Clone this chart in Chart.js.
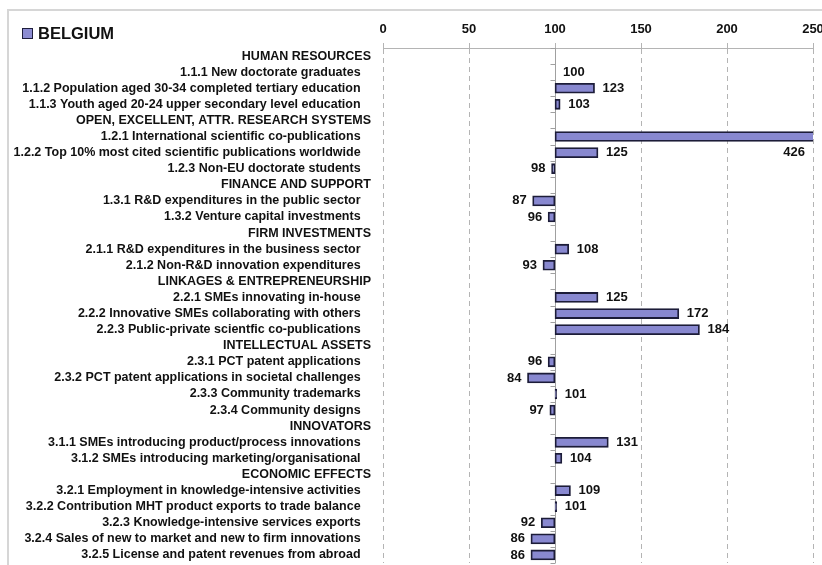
<!DOCTYPE html>
<html>
<head>
<meta charset="utf-8">
<script src="https://cdn.jsdelivr.net/npm/chart.js@4.4.1/dist/chart.umd.min.js"></script>
<style>
    html, body { margin: 0; padding: 0; background: #fff; width: 822px; height: 565px; overflow: hidden; }
    #frame { position: absolute; left: 7px; top: 9px; width: 900px; height: 600px; border-left: 2px solid #d6d6d6; border-top: 2px solid #d6d6d6; }
    #wrap { position: absolute; left: 0; top: 0; width: 840px; height: 565px; }
    #legend { position: absolute; left: 22px; top: 24px; font: bold 16.5px "Liberation Sans", Arial, sans-serif; color: #111; display: flex; align-items: center; }
    #legend .box { width: 9px; height: 9px; border: 1.5px solid #1e1e3c; background: #8c8cd2; margin-right: 5px; }
</style>
</head>
<body>
<div id="frame"></div>
<div id="wrap"><canvas id="chart"></canvas></div>
<div id="legend"><span class="box"></span><span>BELGIUM</span></div>

<script>
// Data (rows with null are section headers)
const categories = [
    "HUMAN RESOURCES",
    "1.1.1 New doctorate graduates",
    "1.1.2 Population aged 30-34 completed tertiary education",
    "1.1.3 Youth aged 20-24 upper secondary level education",
    "OPEN, EXCELLENT, ATTR. RESEARCH SYSTEMS",
    "1.2.1 International scientific co-publications",
    "1.2.2 Top 10% most cited scientific publications worldwide",
    "1.2.3 Non-EU doctorate students",
    "FINANCE AND SUPPORT",
    "1.3.1 R&D expenditures in the public sector",
    "1.3.2 Venture capital investments",
    "FIRM INVESTMENTS",
    "2.1.1 R&D expenditures in the business sector",
    "2.1.2 Non-R&D innovation expenditures",
    "LINKAGES & ENTREPRENEURSHIP",
    "2.2.1 SMEs innovating in-house",
    "2.2.2 Innovative SMEs collaborating with others",
    "2.2.3 Public-private scientfic co-publications",
    "INTELLECTUAL ASSETS",
    "2.3.1 PCT patent applications",
    "2.3.2 PCT patent applications in societal challenges",
    "2.3.3 Community trademarks",
    "2.3.4 Community designs",
    "INNOVATORS",
    "3.1.1 SMEs introducing product/process innovations",
    "3.1.2 SMEs introducing marketing/organisational",
    "ECONOMIC EFFECTS",
    "3.2.1 Employment in knowledge-intensive activities",
    "3.2.2 Contribution MHT product exports to trade balance",
    "3.2.3 Knowledge-intensive services exports",
    "3.2.4 Sales of new to market and new to firm innovations",
    "3.2.5 License and patent revenues from abroad"
];
const scores = [
    null, 100, 123, 103,
    null, 426, 125, 98,
    null, 87, 96,
    null, 108, 93,
    null, 125, 172, 184,
    null, 96, 84, 101, 97,
    null, 131, 104,
    null, 109, 101, 92, 86, 86
];
const baseline = 100;
const xTicks = [0, 50, 100, 150, 200, 250];

const FONT = '"Liberation Sans", Arial, sans-serif';
const barFill = '#8888d0';
const barEdge = '#1c1c38';

// Vertical axis at 100 with small tick marks between categories
const baseAxisPlugin = {
    id: 'baseAxis',
    beforeDatasetsDraw(chart) {
        const { ctx, chartArea, scales: { x, y } } = chart;
        const px = Math.round(x.getPixelForValue(baseline)) + 0.5;
        const band = y.getPixelForValue(1) - y.getPixelForValue(0);
        ctx.save();
        ctx.strokeStyle = '#a0a0a0';
        ctx.lineWidth = 1;
        ctx.beginPath();
        ctx.moveTo(px, chartArea.top);
        ctx.lineTo(px, chartArea.bottom);
        for (let i = 0; i <= categories.length; i++) {
            const yy = Math.round(y.getPixelForValue(i) - band / 2) + 0.5;
            ctx.moveTo(px - 5, yy);
            ctx.lineTo(px, yy);
        }
        ctx.stroke();
        ctx.restore();
    }
};

// Value labels at the bar ends
const valueLabelPlugin = {
    id: 'valueLabels',
    afterDatasetsDraw(chart) {
        const { ctx, chartArea, scales: { x, y } } = chart;
        ctx.save();
        ctx.font = 'bold 13px ' + FONT;
        ctx.fillStyle = '#111';
        ctx.textBaseline = 'middle';
        scores.forEach((v, i) => {
            if (v === null) return;
            const yy = y.getPixelForValue(i);
            const end = x.getPixelForValue(v);
            if (v > x.max) {
                // clipped bar: label sits below, inside the right edge
                ctx.textAlign = 'right';
                ctx.fillText(String(v), chartArea.right - 8, y.getPixelForValue(i + 1));
            } else if (v >= baseline) {
                ctx.textAlign = 'left';
                ctx.fillText(String(v), end + 8, yy);
            } else {
                ctx.textAlign = 'right';
                ctx.fillText(String(v), end - 6, yy);
            }
        });
        ctx.restore();
    }
};

const ctx = document.getElementById('chart').getContext('2d');
new Chart(ctx, {
    type: 'bar',
    data: {
        labels: categories,
        datasets: [{
            label: 'BELGIUM',
            data: scores.map(v => v === null ? null : [baseline, v]),
            backgroundColor: barFill,
            borderColor: barEdge,
            borderWidth: 1.8,
            borderSkipped: false,
            barThickness: 10
        }]
    },
    options: {
        indexAxis: 'y',
        responsive: true,
        maintainAspectRatio: false,
        animation: false,
        layout: { padding: { left: 0, right: 27, top: 0, bottom: 2 } },
        plugins: {
            legend: { display: false },
            tooltip: { enabled: false }
        },
        scales: {
            x: {
                position: 'top',
                min: xTicks[0],
                max: xTicks[xTicks.length - 1],
                afterBuildTicks: (scale) => { scale.ticks = xTicks.map(v => ({ value: v })); },
                afterFit: (scale) => { scale.height = 48; },
                ticks: {
                    color: '#111',
                    padding: 6,
                    font: { family: FONT, size: 13, weight: 'bold' }
                },
                grid: { color: '#b4b4b4', lineWidth: 1, tickLength: 5, tickColor: '#b4b4b4' },
                border: { display: true, color: '#b4b4b4', dash: [5, 4] }
            },
            y: {
                afterFit: (scale) => {
                    scale.width = 383;
                    scale.paddingTop = 0;
                    scale.paddingBottom = 0;
                },
                ticks: {
                    color: '#111',
                    padding: 4,
                    autoSkip: false,
                    font: { family: FONT, size: 12.5, weight: 'bold' },
                    callback: (val, i) => scores[i] === null ? categories[i] : categories[i] + '\u2002\u2004'
                },
                grid: { display: false },
                border: { display: false }
            }
        }
    },
    plugins: [baseAxisPlugin, valueLabelPlugin]
});
</script>
</body>
</html>
